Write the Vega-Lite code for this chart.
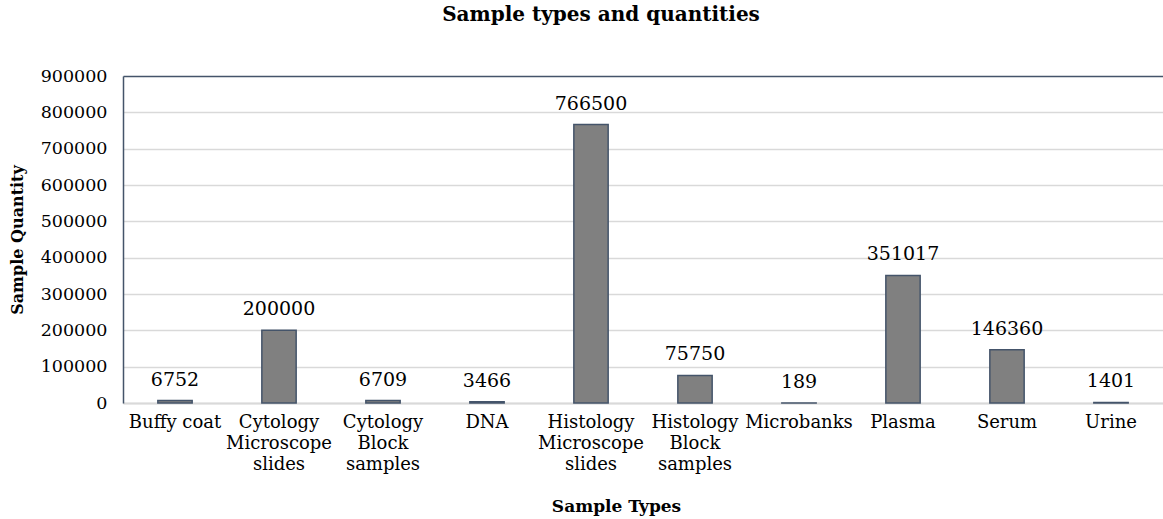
{
  "$schema": "https://vega.github.io/schema/vega-lite/v6.json",
  "autosize": "none",
  "width": 1040,
  "height": 327,
  "padding": {"left": 123, "top": 76, "right": 0, "bottom": 116},
  "background": "white",
  "title": {
    "text": "Sample types and quantities",
    "font": "DejaVu Serif",
    "fontSize": 20,
    "fontWeight": "bold",
    "color": "#000000",
    "anchor": "middle",
    "frame": "group",
    "dx": -42,
    "baseline": "alphabetic",
    "offset": 26
  },
  "config": {
    "view": {"stroke": null},
    "font": "DejaVu Serif"
  },
  "data": {
    "values": [
      {"type": "Buffy coat", "qty": 6752},
      {"type": "Cytology Microscope slides", "qty": 200000},
      {"type": "Cytology Block samples", "qty": 6709},
      {"type": "DNA", "qty": 3466},
      {"type": "Histology Microscope slides", "qty": 766500},
      {"type": "Histology Block samples", "qty": 75750},
      {"type": "Microbanks", "qty": 189},
      {"type": "Plasma", "qty": 351017},
      {"type": "Serum", "qty": 146360},
      {"type": "Urine", "qty": 1401}
    ]
  },
  "encoding": {
    "x": {
      "field": "type",
      "type": "nominal",
      "sort": null,
      "scale": {"paddingInner": 0.67, "paddingOuter": 0.335},
      "axis": {
        "title": "Sample Types",
        "titleFont": "DejaVu Serif",
        "titleFontSize": 17,
        "titleFontWeight": "bold",
        "titleColor": "#000000",
        "titleX": 493,
        "titleY": 103,
        "titleAlign": "center",
        "titleBaseline": "middle",
        "labelAngle": 0,
        "labelFont": "DejaVu Serif",
        "labelFontSize": 18,
        "labelColor": "#000000",
        "labelPadding": 10,
        "labelLineHeight": 21,
        "labelExpr": "datum.label == 'Buffy coat' ? datum.label : split(datum.label, ' ')",
        "ticks": false,
        "domainColor": "#d9d9d9",
        "domainWidth": 2,
        "grid": false
      }
    },
    "y": {
      "field": "qty",
      "type": "quantitative",
      "scale": {"domain": [0, 900000], "nice": false},
      "axis": {
        "title": "Sample Quantity",
        "titleFont": "DejaVu Serif",
        "titleFontSize": 16,
        "titleFontWeight": "bold",
        "titleColor": "#000000",
        "titleX": -106,
        "titleBaseline": "middle",
        "values": [0, 100000, 200000, 300000, 400000, 500000, 600000, 700000, 800000, 900000],
        "format": "d",
        "labelFont": "DejaVu Serif",
        "labelFontSize": 17.5,
        "labelColor": "#000000",
        "labelPadding": 16,
        "ticks": false,
        "domainColor": "#44546A",
        "domainWidth": 1.5,
        "grid": true,
        "gridColor": {"condition": {"test": "datum.value == 900000", "value": "#44546A"}, "value": "#d9d9d9"},
        "gridWidth": 1.5
      }
    }
  },
  "layer": [
    {
      "mark": {"type": "bar", "color": "#808080", "stroke": "#44546A", "strokeWidth": 1.5}
    },
    {
      "mark": {"type": "text", "baseline": "bottom", "dy": -11, "font": "DejaVu Serif", "fontSize": 19, "color": "#000000"},
      "encoding": {"text": {"field": "qty", "type": "quantitative", "format": "d"}}
    }
  ]
}
